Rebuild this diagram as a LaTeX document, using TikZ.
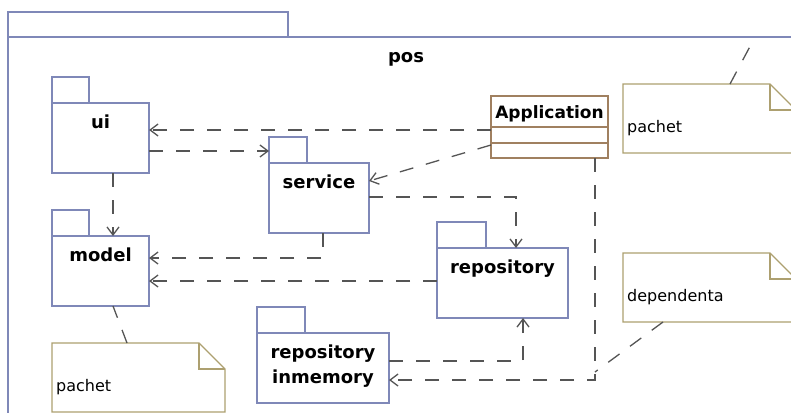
\documentclass[tikz,border=0pt]{standalone}
\usepackage{fontspec}
\setmainfont{DejaVu Sans}
\usetikzlibrary{arrows.meta, calc}
\definecolor{pkgblue}{HTML}{7F88B8}
\definecolor{classbrown}{HTML}{A08060}
\definecolor{noteolive}{HTML}{ADA070}
\definecolor{depgray}{HTML}{555555}

\begin{document}
\begin{tikzpicture}[
      x=1pt, y=-1pt,
      >={Straight Barb[length=8pt,width=12pt]},
      pkg/.style={
        draw=pkgblue,
        line width=1.3pt,
        minimum height=70pt,
        inner sep=0pt,
        outer sep=0pt,
      },
      pkgname/.style={
        anchor=base,
        yshift=-25pt,
        inner sep=0pt,
        align=center,
        font=\bfseries\fontsize{18}{25}\selectfont,
      },
      classbox/.style={
        draw=classbrown,
        line width=1.3pt,
        minimum width=117pt,
        minimum height=62pt,
        inner sep=0pt,
        outer sep=0pt,
      },
      note/.style={
        minimum width=173pt,
        minimum height=69pt,
        inner sep=0pt,
        outer sep=0pt,
      },
      notetext/.style={
        anchor=base west,
        xshift=4pt,
        yshift=-48pt,
        inner sep=0pt,
        font=\fontsize{16}{19}\selectfont,
      },
      noteline/.style={draw=noteolive, line width=1.3pt},
      dep/.style={
        draw=depgray,
        line width=1.3pt,
        dash pattern=on 14pt off 13pt,
      },
      ]
      \path[use as bounding box] (0,0) rectangle (791,412);
      \fill[white] (0,0) rectangle (791,412);
      \clip (0,0) rectangle (791,412);

      % outer package
      \node[pkg, minimum width=796pt, minimum height=420pt,
        label={[pkgname]north:pos}] (pos) at (406,247) {};
      \draw[pkgblue, line width=1.3pt] (pos.north west) rectangle ++(280,-25);

      % inner packages
      \node[pkg, minimum width=97pt, label={[pkgname]north:ui}] (ui) at (100.5,138) {};
      \node[pkg, minimum width=100pt, label={[pkgname]north:service}] (service) at (319,198) {};
      \node[pkg, minimum width=97pt, label={[pkgname]north:model}] (model) at (100.5,271) {};
      \node[pkg, minimum width=131pt, label={[pkgname]north:repository}] (repo) at (502.5,283) {};
      \node[pkg, minimum width=132pt,
        label={[pkgname, yshift=-25pt]north:repository\\inmemory}] (repomem) at (323,368) {};
      \foreach \p/\w in {ui/37, service/38, model/37, repo/49, repomem/48}
        \draw[pkgblue, line width=1.3pt] (\p.north west) rectangle ++(\w,-26);

      % class
      \node[classbox, label={[pkgname, yshift=3pt, font=\bfseries\fontsize{17}{20}\selectfont]north:Application}]
        (app) at (549.5,127) {};
      \draw[classbrown, line width=1.3pt] ($(app.north west)+(0,31)$) -- ($(app.north east)+(0,31)$);
      \draw[classbrown, line width=1.3pt] ($(app.north west)+(0,47)$) -- ($(app.north east)+(0,47)$);

      % notes
      \node[note, label={[notetext]north west:pachet}] (notetop) at (709.5,118.5) {};
      \node[note, label={[notetext]north west:dependenta}] (notedep) at (709.5,287.5) {};
      \node[note, label={[notetext]north west:pachet}] (notebot) at (138.5,377.5) {};
      \foreach \n in {notetop, notedep, notebot} {
        \draw[noteline] (\n.north west) -- ([xshift=-26pt]\n.north east)
          -- ([yshift=-26pt]\n.north east) -- (\n.south east) -- (\n.south west) -- cycle;
        \draw[noteline] ([xshift=-26pt]\n.north east) |- ([yshift=-26pt]\n.north east);
      }

      % dependencies
      \draw[dep, ->] ($(app.west)+(0,3)$) -- ($(ui.east)+(0,-8)$);
      \draw[dep, ->] ($(ui.east)+(0,13)$) -- ($(service.west)+(0,-47)$);
      \draw[dep, ->] ($(app.west)+(0,18)$) -- ($(service.east)+(0,-17)$);
      \draw[dep, ->] ($(ui.south)+(12.5,0)$) -- ($(model.north)+(12.5,0)$);
      \draw[dep, ->] ($(service.south)+(4,0)$) |- ($(model.east)+(0,-13)$);
      \draw[dep, ->] ($(repo.west)+(0,-2)$) -- ($(model.east)+(0,10)$);
      \draw[dep, ->] ($(service.east)+(0,-1)$) -| ($(repo.north)+(13.5,0)$);
      \draw[dep, ->] ($(repomem.east)+(0,-7)$) -| ($(repo.south)+(20.5,0)$);
      \draw[dep, ->] ($(app.south)+(45.5,0)$) |- coordinate[pos=0.482] (depmid)
        ($(repomem.east)+(0,12)$);

      % note attachments
      \draw[dep] ($(notetop.north)+(20.5,0)$) -- ($(pos.north)+(349,0)$);
      \draw[dep] ($(notedep.south)+(-46.5,0)$) -- (depmid);
      \draw[dep] ($(notebot.north)+(-11.5,0)$) -- ($(model.south)+(12.5,0)$);
    \end{tikzpicture}
\end{document}
